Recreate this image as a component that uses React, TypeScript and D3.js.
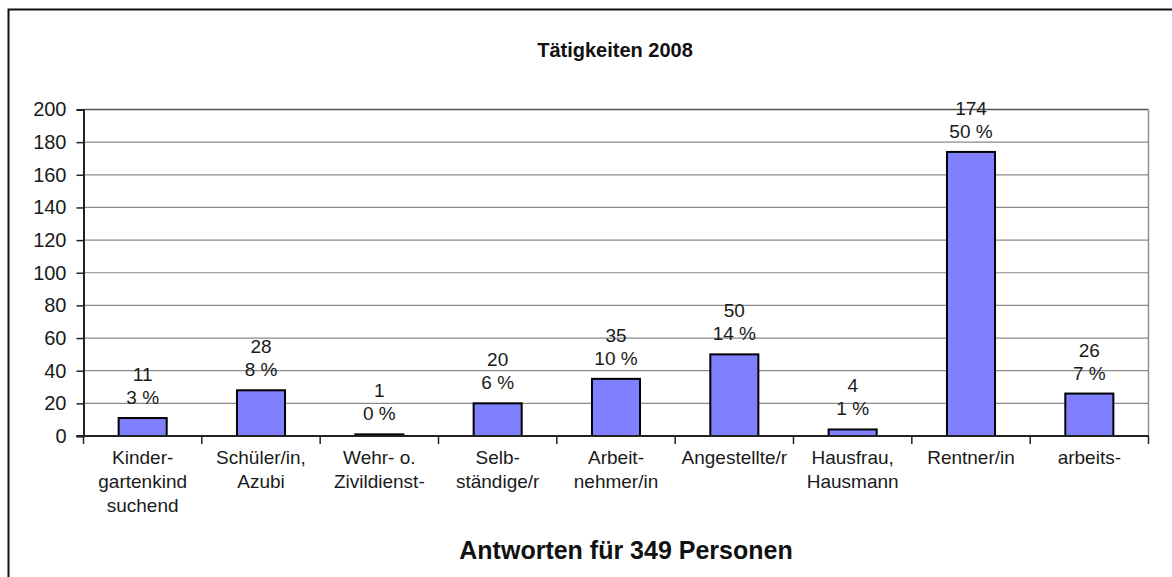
import { useEffect, useRef } from "react";
import * as d3 from "d3";

// categories (multi-line labels as shown under the axis)
const categories: string[][] = [
  ["Kinder-", "gartenkind", "suchend"],
  ["Schüler/in,", "Azubi"],
  ["Wehr- o.", "Zivildienst-"],
  ["Selb-", "ständige/r"],
  ["Arbeit-", "nehmer/in"],
  ["Angestellte/r"],
  ["Hausfrau,", "Hausmann"],
  ["Rentner/in"],
  ["arbeits-"],
];
const counts = [11, 28, 1, 20, 35, 50, 4, 174, 26];
const percents = ["3 %", "8 %", "0 %", "6 %", "10 %", "14 %", "1 %", "50 %", "7 %"];
const yTicks = [0, 20, 40, 60, 80, 100, 120, 140, 160, 180, 200];

const title = "Tätigkeiten 2008";
const xTitle = "Antworten für 349 Personen";

interface Row {
  key: string;
  lines: string[];
  value: number;
  pct: string;
}

const rows: Row[] = categories.map((lines, i) => ({
  key: String(i),
  lines,
  value: counts[i],
  pct: percents[i],
}));

export default function App() {
  const svgRef = useRef<SVGSVGElement>(null);
  const width = 1172;
  const height = 577;
  const plot = { left: 83.5, right: 1148.5, top: 109.5, bottom: 436 };
  const font = "'Liberation Sans', Arial, sans-serif";

  useEffect(() => {
    document.body.style.margin = "0";
    if (!svgRef.current) return;
    const svg = d3.select(svgRef.current);
    svg.selectAll("*").remove();

    svg.append("rect").attr("width", width).attr("height", height).attr("fill", "#fff");

    // outer chart frame (runs off the right and bottom edge)
    svg
      .append("rect")
      .attr("x", 8.5)
      .attr("y", 9.5)
      .attr("width", 1200)
      .attr("height", 600)
      .attr("fill", "none")
      .attr("stroke", "#111")
      .attr("stroke-width", 2);

    const x = d3
      .scaleBand()
      .domain(rows.map((d) => d.key))
      .range([plot.left, plot.right])
      .padding(0);

    const y = d3.scaleLinear().domain([0, 200]).range([plot.bottom, plot.top]);

    const barW = x.bandwidth() * 0.406;

    // grid lines
    svg
      .append("g")
      .selectAll("line")
      .data(yTicks.filter((t) => t > 0))
      .enter()
      .append("line")
      .attr("x1", plot.left)
      .attr("x2", plot.right)
      .attr("y1", (d) => y(d))
      .attr("y2", (d) => y(d))
      .attr("stroke", (d) => (d === 200 ? "#555" : "#8a8a8a"))
      .attr("stroke-width", (d) => (d === 200 ? 1.6 : 1.2));

    // right border of plot area
    svg
      .append("line")
      .attr("x1", plot.right)
      .attr("x2", plot.right)
      .attr("y1", plot.top)
      .attr("y2", plot.bottom)
      .attr("stroke", "#8a8a8a")
      .attr("stroke-width", 1.4);

    // y axis
    const yAxis = svg
      .append("g")
      .attr("transform", `translate(${plot.left},0)`)
      .call(
        d3
          .axisLeft(y)
          .tickValues(yTicks)
          .tickSize(7)
          .tickPadding(10)
          .tickFormat((d) => String(d)),
      );
    yAxis.select(".domain").attr("stroke", "#222").attr("stroke-width", 2);
    yAxis.selectAll(".tick line").attr("stroke", "#222").attr("stroke-width", 1.5);
    yAxis
      .selectAll("text")
      .attr("font-size", 20)
      .attr("font-family", font)
      .attr("fill", "#1a1a1a");

    // bars
    svg
      .append("g")
      .selectAll("rect")
      .data(rows)
      .enter()
      .append("rect")
      .attr("x", (d) => (x(d.key) ?? 0) + (x.bandwidth() - barW) / 2)
      .attr("width", barW)
      .attr("y", (d) => y(d.value))
      .attr("height", (d) => plot.bottom - y(d.value))
      .attr("fill", "#8080ff")
      .attr("stroke", "#000")
      .attr("stroke-width", 2);

    // x axis baseline and ticks
    svg
      .append("line")
      .attr("x1", plot.left - 7)
      .attr("x2", plot.right)
      .attr("y1", plot.bottom)
      .attr("y2", plot.bottom)
      .attr("stroke", "#222")
      .attr("stroke-width", 2);

    const bounds = rows.map((d) => x(d.key) ?? 0).concat([plot.right]);
    svg
      .append("g")
      .selectAll("line")
      .data(bounds)
      .enter()
      .append("line")
      .attr("x1", (d) => d)
      .attr("x2", (d) => d)
      .attr("y1", plot.bottom)
      .attr("y2", plot.bottom + 8)
      .attr("stroke", "#222")
      .attr("stroke-width", 1.5);

    // category labels
    const cat = svg
      .append("g")
      .selectAll("text")
      .data(rows)
      .enter()
      .append("text")
      .attr("text-anchor", "middle")
      .attr("font-size", 19)
      .attr("font-family", font)
      .attr("fill", "#1a1a1a");
    cat
      .selectAll("tspan")
      .data((d) => d.lines.map((l) => ({ l, cx: (x(d.key) ?? 0) + x.bandwidth() / 2 })))
      .enter()
      .append("tspan")
      .attr("x", (d) => d.cx)
      .attr("y", (_, i) => 464 + i * 24)
      .text((d) => d.l);

    // value labels
    const vl = svg.append("g");
    vl.selectAll("text.count")
      .data(rows)
      .enter()
      .append("text")
      .attr("class", "count")
      .attr("x", (d) => (x(d.key) ?? 0) + x.bandwidth() / 2)
      .attr("y", (d) => y(d.value) - 37)
      .attr("text-anchor", "middle")
      .attr("font-size", 19)
      .attr("font-family", font)
      .attr("fill", "#1a1a1a")
      .text((d) => d.value);
    vl.selectAll("text.pct")
      .data(rows)
      .enter()
      .append("text")
      .attr("class", "pct")
      .attr("x", (d) => (x(d.key) ?? 0) + x.bandwidth() / 2)
      .attr("y", (d) => y(d.value) - 14)
      .attr("text-anchor", "middle")
      .attr("font-size", 19)
      .attr("font-family", font)
      .attr("fill", "#1a1a1a")
      .text((d) => d.pct);

    // titles
    svg
      .append("text")
      .attr("x", 615)
      .attr("y", 57)
      .attr("text-anchor", "middle")
      .attr("font-size", 20)
      .attr("font-weight", "bold")
      .attr("font-family", font)
      .attr("fill", "#111")
      .text(title);

    svg
      .append("text")
      .attr("x", 626)
      .attr("y", 559)
      .attr("text-anchor", "middle")
      .attr("font-size", 25)
      .attr("font-weight", "bold")
      .attr("font-family", font)
      .attr("fill", "#111")
      .text(xTitle);
  }, []);

  return <svg ref={svgRef} width={width} height={height} style={{ display: "block" }} />;
}
